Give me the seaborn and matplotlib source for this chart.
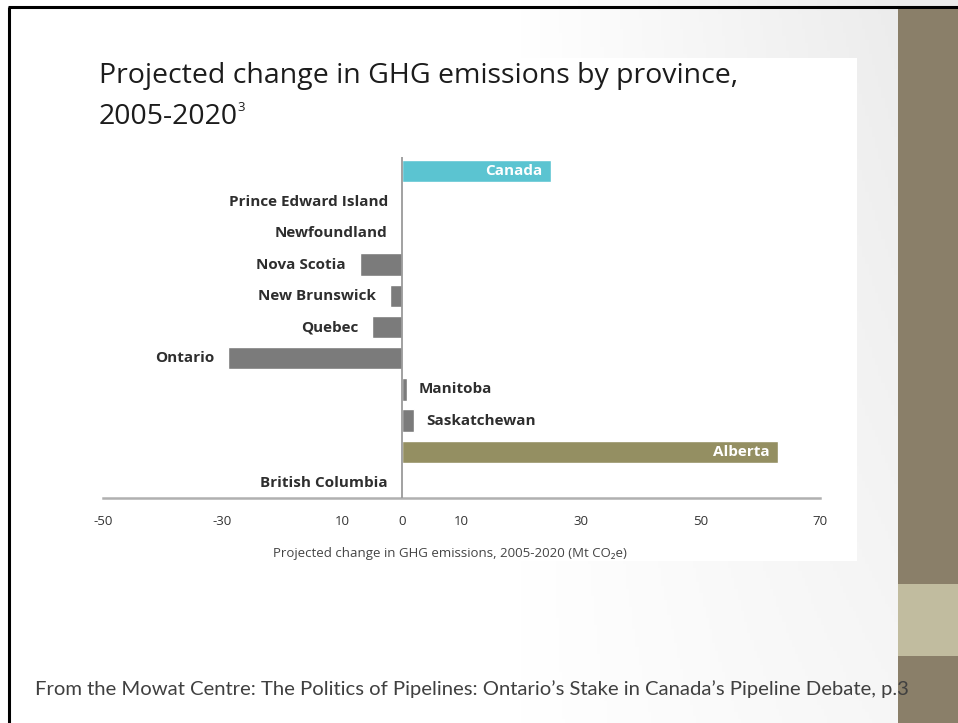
import numpy as np
import pandas as pd
import matplotlib
matplotlib.use("Agg")
import matplotlib.pyplot as plt
import seaborn as sns
from matplotlib.patches import Rectangle

# ---- data ----
regions = ["Canada", "Prince Edward Island", "Newfoundland", "Nova Scotia",
           "New Brunswick", "Quebec", "Ontario", "Manitoba", "Saskatchewan",
           "Alberta", "British Columbia"]
changes = [25, 0, 0, -7, -2, -5, -29, 0.8, 2, 63, 0]
tick_values = [-50, -30, -10, 0, 10, 30, 50, 70]
tick_labels = ["-50", "-30", "10", "0", "10", "30", "50", "70"]
inside_labels = ["Canada", "Alberta"]

title_line1 = "Projected change in GHG emissions by province,"
title_line2 = "2005-2020"
title_sup = "3"
x_label = "Projected change in GHG emissions, 2005-2020 (Mt CO\u2082e)"
footer = ("From the Mowat Centre: The Politics of Pipelines: Ontario\u2019s Stake "
          "in Canada\u2019s Pipeline Debate, p.3")

colors = {"Canada": "#5bc4d1", "Alberta": "#948f62"}
gray = "#7b7b7b"

sns.set_theme(style="white")
plt.rcParams['font.family'] = ['Open Sans', 'DejaVu Sans']

W, H = 958, 723
fig = plt.figure(figsize=(W / 100, H / 100), dpi=100)

# ---- slide background ----
bg = fig.add_axes([0, 0, 1, 1], zorder=-10)
xx = np.linspace(0, W, 300)
yy = np.linspace(0, H, 200)
X, Y = np.meshgrid(xx, yy)
g = np.clip((X - 520) / 380, 0, 1) * (1.0 - 0.55 * Y / H)
val = 1 - 0.075 * g
bg.imshow(np.dstack([val, val, val]), extent=[0, W, H, 0], aspect='auto')
bg.set_xlim(0, W)
bg.set_ylim(H, 0)
bg.axis('off')
bg.add_patch(Rectangle((60, 58), 857 - 60, 561 - 58, color="white", lw=0))
bg.add_patch(Rectangle((898, 8), 60, H - 8, color="#8a7f69", lw=0))
bg.add_patch(Rectangle((898, 584), 60, 72, color="#c1bc9f", lw=0))
bg.plot([9, 9], [7, H], color="black", lw=2.2, solid_capstyle='butt')
bg.plot([8, W], [7, 7], color="black", lw=2.2, solid_capstyle='butt')

# ---- chart ----
df = pd.DataFrame({"region": regions, "change": changes})
palette = {r: colors.get(r, gray) for r in regions}

ax_l, ax_r, ax_t, ax_b = 103, 820, 157, 498
ax = fig.add_axes([ax_l / W, 1 - ax_b / H, (ax_r - ax_l) / W, (ax_b - ax_t) / H])
ax.patch.set_alpha(0)
sns.barplot(data=df, y="region", x="change", hue="region", palette=palette,
            order=regions, orient="h", width=0.72, saturation=1,
            legend=False, ax=ax)
ax.set_xlim(-50, 70)
ax.set_ylim(10.48, -0.45)
ax.axvline(0, color="#9a9a9a", lw=1.3, zorder=5)
for s in ["left", "top", "right"]:
    ax.spines[s].set_visible(False)
ax.spines["bottom"].set_color("#b0b0b0")
ax.spines["bottom"].set_linewidth(1.8)
ax.set_yticks([])
ax.set_ylabel("")
ax.set_xlabel("")
ax.set_xticks(tick_values)
ax.set_xticklabels(tick_labels, fontsize=9.5, color="#333333")
ax.tick_params(axis="x", length=0, pad=12)

lab_kw = dict(textcoords="offset points", va="center", fontsize=11,
              fontweight="bold")
for i, (r, v) in enumerate(zip(regions, changes)):
    if r in inside_labels:
        ax.annotate(r, (v, i), xytext=(-6, 0), ha="right", color="white", **lab_kw)
    elif v > 0.5:
        ax.annotate(r, (v, i), xytext=(9, 0), ha="left", color="#2e2e2e", **lab_kw)
    else:
        ax.annotate(r, (min(v, 0), i), xytext=(-10, 0), ha="right",
                    color="#2e2e2e", **lab_kw)

fig.text(450 / W, 1 - 553 / H, x_label, ha="center", va="center",
         fontsize=9.5, color="#444444")

# ---- titles and footer ----
fig.text(99 / W, 1 - 83 / H, title_line1, ha="left", va="baseline",
         fontsize=20.5, color="#1c1c1c")
t2 = fig.text(99 / W, 1 - 124 / H, title_line2, ha="left", va="baseline",
              fontsize=20.5, color="#1c1c1c")
fig.canvas.draw()
bb = t2.get_window_extent()
fig.text((bb.x1 - 1) / W, 1 - 111 / H, title_sup, ha="left", va="baseline",
         fontsize=9.5, color="#1c1c1c")
fig.text(35 / W, 1 - 695 / H, footer, ha="left", va="baseline",
         fontsize=14.6, color="#404040", family=['Lato', 'DejaVu Sans'], zorder=20)

fig.savefig("out.png", dpi=100)
